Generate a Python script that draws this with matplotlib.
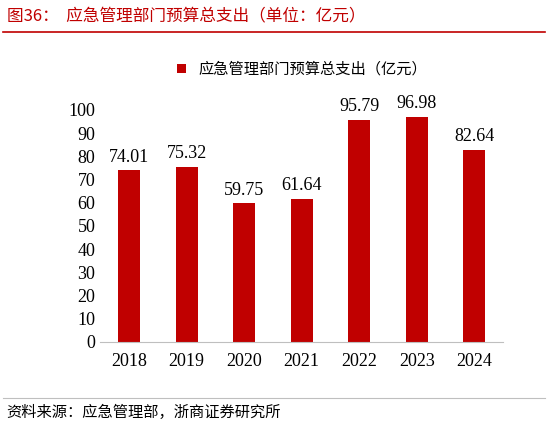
import matplotlib.pyplot as plt
from matplotlib.lines import Line2D

plt.rcParams['font.family'] = ['Liberation Serif', 'Noto Sans CJK SC']

years = ['2018', '2019', '2020', '2021', '2022', '2023', '2024']
spend = [74.01, 75.32, 59.75, 61.64, 95.79, 96.98, 82.64]
red = '#C00000'

fig = plt.figure(figsize=(5.48, 4.29), dpi=100)
ax = fig.add_axes([0.183, 0.203, 0.735, 0.541])
bars = ax.bar(years, spend, width=0.38, color=red, label='应急管理部门预算总支出（亿元）')
for b, v in zip(bars, spend):
    ax.text(b.get_x() + b.get_width() / 2, v + 2, f'{v:.2f}', ha='center', va='bottom', fontsize=13)
ax.set_xlim(-0.5, 6.5)
ax.set_ylim(0, 100)
ax.set_yticks(range(0, 101, 10))
ax.tick_params(labelsize=13, length=0)
ax.tick_params(axis='x', pad=8)
for s in ['top', 'right', 'left']:
    ax.spines[s].set_visible(False)
ax.spines['bottom'].set_color('#bfbfbf')
ax.legend(loc='upper center', bbox_to_anchor=(0.5, 1.27), frameon=False, handlelength=0.6,
          handleheight=0.6, prop={'family': 'Noto Sans CJK SC', 'size': 11})

fig.text(0.012, 0.963, '图36：  应急管理部门预算总支出（单位：亿元）', color=red, fontsize=12,
         family='Noto Sans CJK SC', va='center')
fig.add_artist(Line2D([0.005, 0.995], [0.925, 0.925], color=red, lw=1.2))
fig.add_artist(Line2D([0.005, 0.995], [0.072, 0.072], color='#bfbfbf', lw=0.8))
fig.text(0.012, 0.038, '资料来源：应急管理部，浙商证券研究所', fontsize=11,
         family='Noto Sans CJK SC', va='center')
fig.savefig('out.png')
